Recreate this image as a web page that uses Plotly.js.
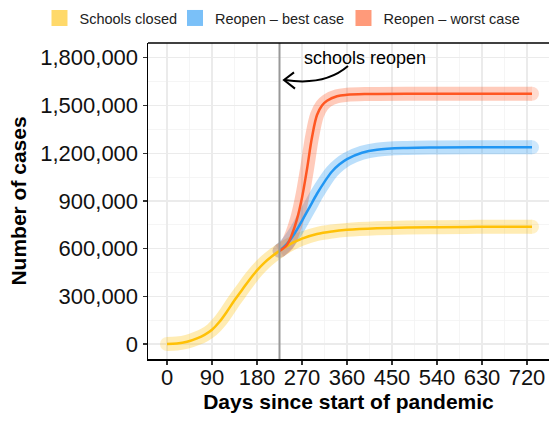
<!DOCTYPE html>
<html>
<head>
<meta charset="utf-8">
<script src="https://cdn.plot.ly/plotly-3.0.1.min.js"></script>
<style>html,body{margin:0;padding:0;background:#fff;}#chart{width:549px;height:421px;}</style>
</head>
<body>
<div id="chart"></div>
<script>
// ---- data ----
const seriesNames = ["Schools closed", "Reopen \u2013 best case", "Reopen \u2013 worst case"];
const daysClosed = [0, 20, 40, 60, 75, 90, 105, 120, 135, 150, 165, 180, 195, 210, 225, 240, 255, 270, 300, 330, 360, 420, 480, 540, 600, 660, 730];
const casesClosed = [0, 3000, 14000, 36000, 58000, 90000, 140000, 205000, 275000, 340000, 405000, 463000, 512000, 552000, 586000, 616000, 642000, 663000, 692000, 708000, 718000, 728000, 733000, 735000, 736500, 737500, 738000];
const daysBest = [225, 240, 255, 270, 285, 300, 315, 330, 345, 360, 390, 420, 480, 540, 630, 730];
const casesBest = [586000, 630000, 695000, 775000, 860000, 945000, 1020000, 1085000, 1130000, 1163000, 1203000, 1222000, 1233000, 1236000, 1237000, 1237000];
const daysWorst = [225, 240, 250, 260, 270, 280, 290, 300, 310, 320, 340, 360, 400, 500, 600, 730];
const casesWorst = [586000, 625000, 690000, 785000, 920000, 1100000, 1300000, 1440000, 1500000, 1530000, 1558000, 1567000, 1572000, 1574000, 1574000, 1574000];
const reopenDay = 225;
const annotationText = "schools reopen";

// ---- styles ----
const lineColors = ["#FFC107", "#2196F3", "#FF5722"];
const legendColors = ["#FFD96A", "#7AC0F8", "#FF9A7A"];
const legendIds = ["legend", "legend2", "legend3"];
const legendX = [-0.2706, 0.0673, 0.4875];
const font = "Liberation Sans, Arial, sans-serif";

const series = [
  {x: daysClosed, y: casesClosed},
  {x: daysBest, y: casesBest},
  {x: daysWorst, y: casesWorst}
];

const traces = [];
series.forEach((s, i) => {
  const n = s.x.length;
  traces.push({
    x: s.x, y: s.y, type: "scatter", mode: "lines+markers",
    line: {color: lineColors[i], width: 14, shape: "spline", smoothing: 1},
    marker: {color: lineColors[i], size: s.x.map((_, k) => (k === 0 || k === n - 1) ? 14 : 0), line: {width: 0}},
    opacity: 0.3, showlegend: false, hoverinfo: "skip"
  });
});
series.forEach((s, i) => {
  traces.push({
    x: s.x, y: s.y, type: "scatter", mode: "lines",
    line: {color: lineColors[i], width: 2.5, shape: "spline", smoothing: 1},
    showlegend: false, hoverinfo: "skip"
  });
});
seriesNames.forEach((name, i) => {
  traces.push({
    x: [null], y: [null], type: "scatter", mode: "markers", name: name,
    marker: {symbol: "square", size: 17, color: legendColors[i]},
    showlegend: true, legend: legendIds[i]
  });
});

const axisCommon = {
  showline: true, linecolor: "#000", linewidth: 1.5,
  ticks: "outside", ticklen: 4, tickcolor: "#333", tickwidth: 1.2,
  tickfont: {family: font, size: 22, color: "#111"},
  showgrid: true, gridcolor: "#EBEBEB", gridwidth: 1.2,
  zeroline: false, automargin: false
};

const layout = {
  width: 549, height: 421,
  margin: {l: 148, r: 0, t: 43, b: 62, autoexpand: false},
  paper_bgcolor: "#fff", plot_bgcolor: "#fff",
  font: {family: font, color: "#000"},
  showlegend: true,
  xaxis: Object.assign({}, axisCommon, {
    range: [-38, 764], dtick: 90, tick0: 0, mirror: false, ticklabelstandoff: -6,
    minor: {dtick: 45, showgrid: true, gridcolor: "#F2F2F2", gridwidth: 0.8},
    title: {text: "<b>Days since start of pandemic</b>", font: {family: font, size: 21, color: "#000"}, standoff: 5}
  }),
  yaxis: Object.assign({}, axisCommon, {
    range: [-94000, 1893000], dtick: 300000, tick0: 0, tickformat: ",d",
    minor: {dtick: 150000, showgrid: true, gridcolor: "#F2F2F2", gridwidth: 0.8},
    title: {text: "<b>Number of cases</b>", font: {family: font, size: 21, color: "#000"}, standoff: 8}
  }),
  shapes: [
    {type: "line", xref: "x", yref: "paper", x0: reopenDay, x1: reopenDay, y0: 0, y1: 1,
     line: {color: "#999999", width: 2}, layer: "above"},
    {type: "line", xref: "paper", yref: "paper", x0: 0, x1: 1, y0: 1, y1: 1,
     line: {color: "#000", width: 1.5}, layer: "above"},
    {type: "path", xref: "x", yref: "y",
     path: "M 362,1748000 Q 316,1623000 236,1660000",
     line: {color: "#000", width: 2}, layer: "above"},
    {type: "path", xref: "x", yref: "y",
     path: "M 254,1708000 L 234,1660000 L 256,1606000",
     line: {color: "#000", width: 2}, layer: "above"}
  ],
  annotations: [
    {x: 396, y: 1799000, xref: "x", yref: "y", text: annotationText, showarrow: false,
     font: {family: font, size: 18, color: "#000"}, xanchor: "center", yanchor: "middle"}
  ]
};
legendIds.forEach((id, i) => {
  layout[id] = {orientation: "h", x: legendX[i], xanchor: "left", y: 1.079, yanchor: "middle",
    font: {family: font, size: 14.5, color: "#222"}, itemwidth: 30, bgcolor: "rgba(0,0,0,0)"};
});

Plotly.newPlot("chart", traces, layout, {displayModeBar: false, staticPlot: true});
</script>
</body>
</html>
